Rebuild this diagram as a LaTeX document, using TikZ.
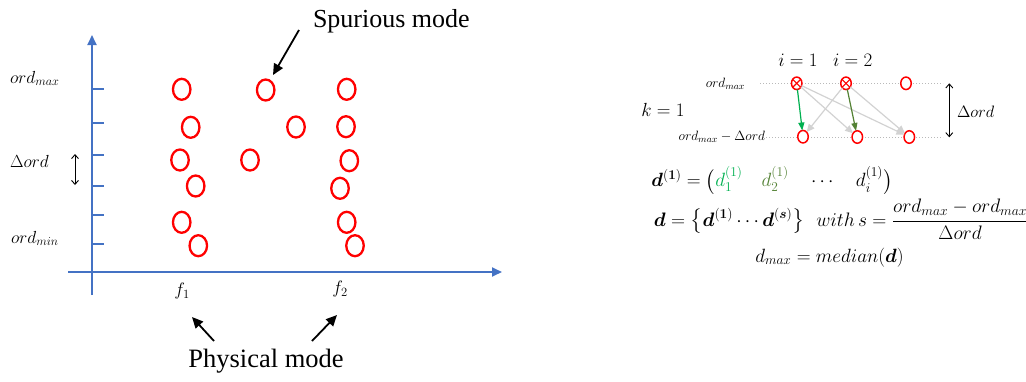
\documentclass[tikz,border=0pt]{standalone}
\usepackage{fix-cm}
\usepackage{amsmath,bm}
\usepackage{fontspec}
\newfontfamily\tnr{Liberation Serif}
\usetikzlibrary{arrows.meta,shapes.geometric}
\definecolor{axblue}{RGB}{68,114,196}
\definecolor{mred}{RGB}{255,0,0}
\definecolor{lgreen}{RGB}{0,176,80}
\definecolor{dgreen}{RGB}{84,130,53}
\definecolor{lgray}{RGB}{210,210,210}
\definecolor{dotgray}{RGB}{185,185,185}
\newcommand{\fs}[1]{\fontsize{#1}{#1}\selectfont}
\begin{document}
\begin{tikzpicture}[x=1pt,y=-1pt,
  every node/.style={inner sep=0,outer sep=0},
  mode/.style={ellipse,draw=mred,line width=2.3,minimum width=17.5,minimum height=21},
  smode/.style={ellipse,draw=mred,fill=white,line width=1.5,minimum width=10.5,minimum height=12.5},
  axis/.style={axblue,line width=1.8,-{Triangle[length=10,width=9]}},
  tickmark/.style={axblue,line width=1.8},
  bigarrow/.style={line width=1.8,-{Triangle[length=11,width=10]}},
  dbl/.style={line width=0.9,{Straight Barb[length=4,width=7]}-{Straight Barb[length=4,width=7]}},
  dotline/.style={dotgray,dotted,line width=1},
  grayarrow/.style={lgray,line width=1.2,-{Triangle[length=8,width=7]}},
  colarrow/.style={line width=1.2,-{Triangle[length=8,width=6]}}]
\useasboundingbox (0,0) rectangle (1026,381);

% ---------- left panel: axes ----------
\coordinate (ybot) at (92,295);
\coordinate (ytop) at (92,35);
\coordinate (xl) at (68,272);
\coordinate (xr) at (502,272);
\draw[axis] (ybot) -- (ytop);
\draw[axis] (xl) -- (xr);
\foreach \y in {89.3,122.7,155,185.7,215.3,244.3}
  \draw[tickmark] (92,\y) -- (104,\y);

% axis labels
\node[anchor=base west] (lmax) at (10,83) {\fs{17.5}$ord_{max}$};
\node[anchor=base west] (ldelta) at (10,167) {\fs{17.5}$\Delta ord$};
\node[anchor=base west] (lmin) at (11,243) {\fs{17.5}$ord_{min}$};
\coordinate (da1) at (75,154);
\coordinate (da2) at (75,185);
\draw[dbl] (da1) -- (da2);
\node (f1) at (182,291) {\fs{18}$f_1$};
\node (f2) at (340,289) {\fs{18}$f_2$};

% modes
\node[mode] (a1) at (181.7,89.3) {};
\node[mode] (a2) at (190.7,127.3) {};
\node[mode] (a3) at (180,160) {};
\node[mode] (a4) at (195.7,186) {};
\node[mode] (a5) at (181.7,222.3) {};
\node[mode] (a6) at (198.3,245.7) {};
\node[mode] (s1) at (265.7,90) {};
\node[mode] (s2) at (296,127) {};
\node[mode] (s3) at (250,160) {};
\node[mode] (b1) at (346.7,89.3) {};
\node[mode] (b2) at (346,126.7) {};
\node[mode] (b3) at (349.3,160.7) {};
\node[mode] (b4) at (340,188.3) {};
\node[mode] (b5) at (346.7,222.3) {};
\node[mode] (b6) at (355,245.7) {};

% annotations
\node[anchor=west] (spur) at (313,21) {\fs{26}\tnr Spurious mode};
\coordinate (spt) at (299,30);
\coordinate (sph) at (273,75);
\draw[bigarrow] (spt) -- (sph);
\node (phys) at (266,361) {\fs{26.5}\tnr Physical mode};
\coordinate (p1t) at (214,341);
\coordinate (p1h) at (192,317);
\coordinate (p2t) at (312,341);
\coordinate (p2h) at (337,315);
\draw[bigarrow] (p1t) -- (p1h);
\draw[bigarrow] (p2t) -- (p2h);

% ---------- right panel ----------
\coordinate (dl1) at (760,83.3);
\coordinate (dr1) at (943,83.3);
\coordinate (dl2) at (763,137.3);
\coordinate (dr2) at (943,137.3);
\draw[dotline] (dl1) -- (dr1);
\draw[dotline] (dl2) -- (dr2);

\node[smode] (t1) at (796.7,83.3) {};
\node[smode] (t2) at (846,83.3) {};
\node[smode] (t3) at (906,83.3) {};
\node[smode] (u1) at (803,136.7) {};
\node[smode] (u2) at (857.3,137) {};
\node[smode] (u3) at (909.3,137) {};
\foreach \n in {t1,t2}{
  \draw[mred,line width=1.1] (\n.45) -- (\n.225);
  \draw[mred,line width=1.1] (\n.135) -- (\n.315);
}

\draw[grayarrow] (t1) -- (u2);
\draw[grayarrow] (t1) -- (u3);
\draw[grayarrow] (t2) -- (u1);
\draw[grayarrow] (t2) -- (u3);
\draw[colarrow,lgreen] (t1) -- (u1);
\draw[colarrow,dgreen] (t2) -- (u2);

\node[anchor=base east] (rmax) at (745,87) {\fs{13.5}$ord_{max}$};
\node[anchor=base east] (rmin) at (765,140.5) {\fs{13.5}$ord_{max}-\Delta ord$};
\node[anchor=base] (i1) at (798,66) {\fs{19}$i=1$};
\node[anchor=base] (i2) at (852.7,66) {\fs{19}$i=2$};
\node[anchor=base] (k1) at (663,116) {\fs{19}$k=1$};
\coordinate (ra1) at (949.3,83.3);
\coordinate (ra2) at (949.3,137.3);
\draw[dbl] (ra1) -- (ra2);
\node[anchor=base west] (rdelta) at (957,117.5) {\fs{16.5}$\Delta ord$};

% formulas
\node[anchor=base] (eq1) at (772,186.5) {\fs{19.2}$\bm{d}^{(\bm{1})}=\big(\textcolor{lgreen}{d_1^{(1)}}\quad\textcolor{dgreen}{d_2^{(1)}}\quad\cdots\quad d_i^{(1)}\big)$};
\node[anchor=base] (eq2) at (841,226) {\fs{19.5}$\bm{d}=\big\{\bm{d}^{(\bm{1})}\cdots\bm{d}^{(\bm{s})}\big\}\ \ with\,s=\dfrac{ord_{max}-ord_{max}}{\Delta ord}$};
\node[anchor=base] (eq3) at (829.5,262) {\fs{19.2}$d_{max}=median(\bm{d})$};
\end{tikzpicture}
\end{document}
